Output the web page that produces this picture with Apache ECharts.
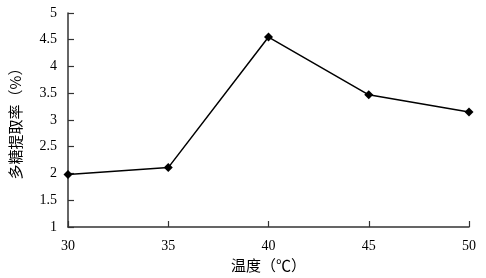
<!DOCTYPE html>
<html><head><meta charset="utf-8">
<script src="https://cdn.jsdelivr.net/npm/echarts@6/dist/echarts.min.js"></script>
<style>html,body{margin:0;padding:0;background:#fff}#c{width:486px;height:278px}</style>
</head><body><div id="c"></div>
<script>
var temps = [30, 35, 40, 45, 50];
var yields = [1.98, 2.11, 4.55, 3.47, 3.15];
var xName = '温度（℃）';
var yName = '多糖提取率（%）';

var data = temps.map(function(t, i){ return [t, yields[i]]; });
var chart = echarts.init(document.getElementById('c'));
var labelFont = {fontFamily: '"Liberation Serif", "Times New Roman", serif', fontSize: 14, color: '#000'};
var nameFont = {fontFamily: '"Noto Sans CJK SC", serif', fontSize: 15, color: '#000'};
chart.setOption({
  backgroundColor: '#fff',
  animation: false,
  grid: {left: 63, right: 17, top: 13, bottom: 50},
  xAxis: {
    type: 'value', min: 30, max: 50, interval: 5,
    name: xName, nameLocation: 'middle', nameGap: 31,
    nameTextStyle: nameFont,
    axisLine: {show: true, lineStyle: {color: '#333', width: 1.5}},
    axisTick: {show: true, inside: true, length: 6, lineStyle: {color: '#333', width: 1.2}},
    axisLabel: Object.assign({margin: 12}, labelFont),
    splitLine: {show: false}
  },
  yAxis: {
    type: 'value', min: 1, max: 5, interval: 0.5,
    name: yName, nameLocation: 'middle', nameGap: 45, nameRotate: 90,
    nameTextStyle: nameFont,
    axisLine: {show: true, lineStyle: {color: '#333', width: 1.5}},
    axisTick: {show: true, inside: true, length: 6, lineStyle: {color: '#333', width: 1.2}},
    axisLabel: Object.assign({margin: 11}, labelFont),
    splitLine: {show: false}
  },
  series: [{
    type: 'line', data: data,
    symbol: 'diamond', symbolSize: 9,
    itemStyle: {color: '#000'},
    lineStyle: {color: '#000', width: 1.5}
  }]
});
</script></body></html>
